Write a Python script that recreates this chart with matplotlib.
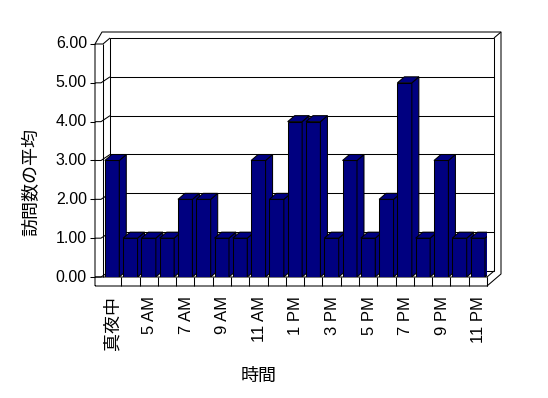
import matplotlib.pyplot as plt
from matplotlib.patches import Polygon, Rectangle

plt.rcParams['font.family'] = ['Liberation Sans', 'Noto Sans CJK JP']

# data
hours = ['真夜中', '4 AM', '5 AM', '6 AM', '7 AM', '8 AM', '9 AM', '10 AM', '11 AM', '正午',
         '1 PM', '2 PM', '3 PM', '4 PM', '5 PM', '6 PM', '7 PM', '8 PM', '9 PM', '10 PM', '11 PM']
visits = [3, 1, 1, 1, 2, 2, 1, 1, 3, 2, 4, 4, 1, 3, 1, 2, 5, 1, 3, 1, 1]
yticks = [0, 1, 2, 3, 4, 5, 6]

W, H = 548, 398
LW = 0.75
fig = plt.figure(figsize=(W / 100, H / 100), dpi=100)
ax = fig.add_axes([103 / W, 1 - 277 / H, 384 / W, 233 / H])
ax.set_xlim(-0.5, len(hours) - 0.5)
ax.set_ylim(0, 6)
ax.axis('off')

XS = 384 / len(hours)   # pixels per category
YS = 233 / 6            # pixels per unit


def px(x, y):
    # figure pixel -> data coords of ax
    return (-0.5 + (x - 103) / XS, (277 - y) / YS)


def line(pts, **kw):
    xs, ys = zip(*[px(*p) for p in pts])
    ax.plot(xs, ys, color='black', lw=LW, clip_on=False, solid_capstyle='butt', **kw)


dx, dy = 7 / XS, 6 / YS

# back wall + walls outline
ax.add_patch(Rectangle(px(110, 271), 384 / XS, 233 / YS, facecolor='white',
                       edgecolor='black', lw=LW, zorder=0.5, clip_on=False))
for v in yticks[1:-1]:
    ax.plot([-0.5 + dx, len(hours) - 0.5 + dx], [v + dy, v + dy], color='black', lw=LW,
            zorder=0.6, clip_on=False)
line([(95, 286), (95, 44), (102, 32), (501, 32), (501, 274), (487, 286), (95, 286)])
line([(95, 44), (103, 44), (110, 38)])
line([(103, 44), (103, 277)])
line([(494, 38), (501, 32)])
line([(95, 277), (487, 277), (494, 271)])
line([(487, 277), (487, 286)])
for i in range(len(hours)):
    xb = 103 + (i + 1) * XS
    line([(xb, 277), (xb, 286)])

# left wall grid / ticks
for v in yticks:
    yp = 277 - v * YS
    line([(90, yp), (95, yp)])
    if v < 6:
        line([(95, yp), (101, yp), (110, yp - 6)])
    ax.text(*px(87, yp), f'{v:.2f}', ha='right', va='center', fontsize=11.5, clip_on=False)

# bars
x0s = [i - 0.5 + 0.1 for i in range(len(hours))]
bw = 0.79
bars = ax.bar(x0s, visits, width=bw, align='edge', color='#000080',
              edgecolor='black', lw=LW)
for i, (b, x0, h) in enumerate(zip(bars, x0s, visits)):
    z = 2 + i * 0.01
    b.set_zorder(z)
    x1 = x0 + bw
    side = Polygon([(x1, 0), (x1 + dx, dy), (x1 + dx, h + dy), (x1, h)], closed=True,
                   facecolor='#000080', edgecolor='black', lw=LW, zorder=z)
    top = Polygon([(x0, h), (x0 + dx, h + dy), (x1 + dx, h + dy), (x1, h)], closed=True,
                  facecolor='#000080', edgecolor='black', lw=LW, zorder=z)
    ax.add_patch(side)
    ax.add_patch(top)

# category labels (every other)
for i, lab in enumerate(hours):
    if i % 2:
        continue
    fs = 13 if i == 0 else 12
    ax.text(i + 1 / XS, px(0, 296)[1], lab, rotation=90, ha='center', va='top',
            fontsize=fs, clip_on=False)

fig.text(259 / W, 1 - 376 / H, '時間', ha='center', va='center', fontsize=13)
fig.text(32 / W, 1 - 182 / H, '訪問数の平均', ha='center', va='center', rotation=90, fontsize=13)

fig.savefig('out.png', dpi=100)
